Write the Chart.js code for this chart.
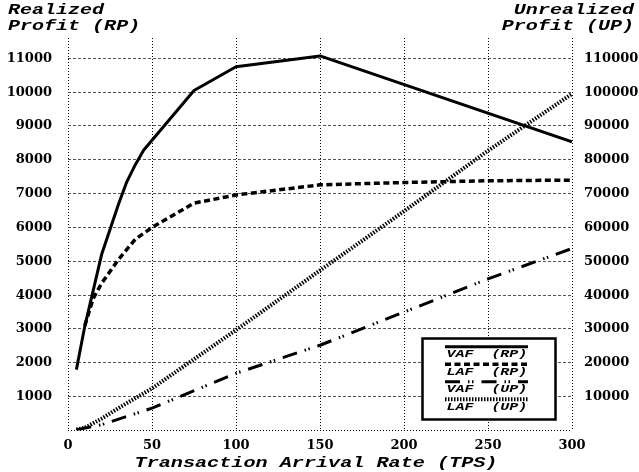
<!DOCTYPE html>
<html><head><meta charset="utf-8">
<script src="https://cdn.jsdelivr.net/npm/chart.js@4/dist/chart.umd.min.js"></script>
<style>html,body{margin:0;padding:0;background:#fff;}canvas{display:block;}</style>
</head><body>
<canvas id="c" width="639" height="472"></canvas>
<script>
// ---- data ----
const vafRpX = [5, 10, 20, 30, 35, 40, 45, 75, 100, 150, 300];
const vafRpY = [1800, 3080, 5200, 6680, 7350, 7850, 8280, 10050, 10750, 11070, 8530];
const lafRpX = [10, 15, 20, 30, 40, 50, 75, 100, 150, 200, 250, 300];
const lafRpY = [3100, 3900, 4350, 5050, 5650, 6000, 6720, 6960, 7260, 7330, 7380, 7400];
const vafUpX = [5, 20, 50, 100, 150, 200, 250, 300];
const vafUpY = [200, 1700, 6600, 16900, 25200, 35000, 44800, 53800];
const lafUpX = [5, 10, 20, 30, 50, 100, 150, 200, 250, 300];
const lafUpY = [300, 800, 3500, 6600, 12450, 29700, 47300, 64800, 82700, 99500];

const xTicks = [0, 50, 100, 150, 200, 250, 300];
const rpTicks = [0, 1000, 2000, 3000, 4000, 5000, 6000, 7000, 8000, 9000, 10000, 11000];
const upTicks = [0, 10000, 20000, 30000, 40000, 50000, 60000, 70000, 80000, 90000, 100000, 110000];
const seriesLabels = ['VAF  (RP)', 'LAF  (RP)', 'VAF  (UP)', 'LAF  (UP)'];
const leftTitle = ['Realized', 'Profit (RP)'];
const rightTitle = ['Unrealized', 'Profit (UP)'];
const xTitle = 'Transaction Arrival Rate (TPS)';

const pts = (xs, ys) => xs.map((x, i) => ({x: x, y: ys[i]}));
const tickFont = {family: '"DejaVu Serif", serif', weight: 'bold', size: 13};
const monoFont = '"Liberation Mono", "Courier New", monospace';

function stretchText(ctx, text, x, y, align, sx) {
  ctx.save();
  ctx.translate(x, y);
  ctx.scale(sx, 1);
  ctx.textAlign = align;
  ctx.textBaseline = 'alphabetic';
  ctx.fillText(text, 0, 0);
  ctx.restore();
}

const decor = {
  id: 'decor',
  beforeDraw(chart) {
    const ctx = chart.ctx;
    ctx.save();
    ctx.fillStyle = '#fff';
    ctx.fillRect(0, 0, chart.width, chart.height);
    ctx.restore();
  },
  afterDraw(chart) {
    const ctx = chart.ctx;
    ctx.save();
    ctx.fillStyle = '#000';
    ctx.font = 'italic bold 14px ' + monoFont;
    stretchText(ctx, leftTitle[0], 8, 14, 'left', 1.43);
    stretchText(ctx, leftTitle[1], 8, 30, 'left', 1.43);
    stretchText(ctx, rightTitle[0], 634, 14, 'right', 1.43);
    stretchText(ctx, rightTitle[1], 634, 30, 'right', 1.43);
    stretchText(ctx, xTitle, 316, 466.5, 'center', 1.44);

    // legend box
    const bx = 422.5, by = 338.5, bw = 133, bh = 81;
    ctx.fillStyle = '#fff';
    ctx.fillRect(bx, by, bw, bh);
    ctx.strokeStyle = '#000';
    ctx.lineWidth = 2.5;
    ctx.setLineDash([]);
    ctx.strokeRect(bx, by, bw, bh);
    chart.data.datasets.forEach((ds, i) => {
      const base = 357.3 + i * 17.5;
      const ly = base - 10.5;
      ctx.save();
      ctx.strokeStyle = '#000';
      ctx.lineWidth = ds.borderWidth;
      ctx.lineCap = 'butt';
      ctx.setLineDash(ds.borderDash || []);
      ctx.beginPath();
      ctx.moveTo(445, ly);
      ctx.lineTo(528, ly);
      ctx.stroke();
      ctx.restore();
      ctx.fillStyle = '#000';
      ctx.font = 'italic bold 11px ' + monoFont;
      stretchText(ctx, ds.label, 446.5, base, 'left', 1.36);
    });
    ctx.restore();
  }
};

const mk = (label, xs, ys, axis, width, dash) => ({
  label: label, data: pts(xs, ys), yAxisID: axis,
  borderColor: '#000', backgroundColor: '#000', borderWidth: width,
  borderDash: dash, borderCapStyle: 'butt', borderJoinStyle: 'round',
  pointRadius: 0, pointHoverRadius: 0, fill: false, tension: 0
});

new Chart(document.getElementById('c'), {
  type: 'line',
  data: {
    datasets: [
      mk(seriesLabels[0], vafRpX, vafRpY, 'y', 3, []),
      mk(seriesLabels[1], lafRpX, lafRpY, 'y', 3.5, [6, 3.5]),
      mk(seriesLabels[2], vafUpX, vafUpY, 'y1', 3, [15, 8, 1.5, 2.5, 1.5, 8]),
      mk(seriesLabels[3], lafUpX, lafUpY, 'y1', 4, [1.5, 1.5])
    ]
  },
  options: {
    responsive: false,
    animation: false,
    events: [],
    layout: {padding: {left: 8, right: 0, top: 38, bottom: 0}},
    plugins: {legend: {display: false}, tooltip: {enabled: false}, title: {display: false}},
    scales: {
      x: {
        type: 'linear', min: 0, max: 300,
        afterBuildTicks: s => { s.ticks = xTicks.map(v => ({value: v})); },
        afterFit: s => { s.height = 41.5; },
        ticks: {font: tickFont, color: '#000', padding: 7, callback: v => String(v)},
        grid: {color: '#000', lineWidth: 1, drawTicks: false},
        border: {display: false, dash: [1, 2]}
      },
      y: {
        type: 'linear', position: 'left', min: 0, max: 11600,
        afterBuildTicks: s => { s.ticks = rpTicks.map(v => ({value: v})); },
        afterFit: s => { s.width = 60; },
        ticks: {font: tickFont, color: '#000', padding: 16, callback: v => v === 0 ? '' : String(v)},
        grid: {
          color: c => (c.tick && c.tick.value === 0) ? '#000' : '#555',
          lineWidth: 1, drawTicks: false
        },
        border: {display: false, dash: c => (c.tick && c.tick.value === 0) ? [1, 2] : [3, 2]}
      },
      y1: {
        type: 'linear', position: 'right', min: 0, max: 116000,
        afterBuildTicks: s => { s.ticks = upTicks.map(v => ({value: v})); },
        afterFit: s => { s.width = 67; },
        ticks: {font: tickFont, color: '#000', padding: 12, callback: v => v === 0 ? '' : String(v)},
        grid: {display: false, drawTicks: false},
        border: {display: false}
      }
    }
  },
  plugins: [decor]
});
</script>
</body></html>
